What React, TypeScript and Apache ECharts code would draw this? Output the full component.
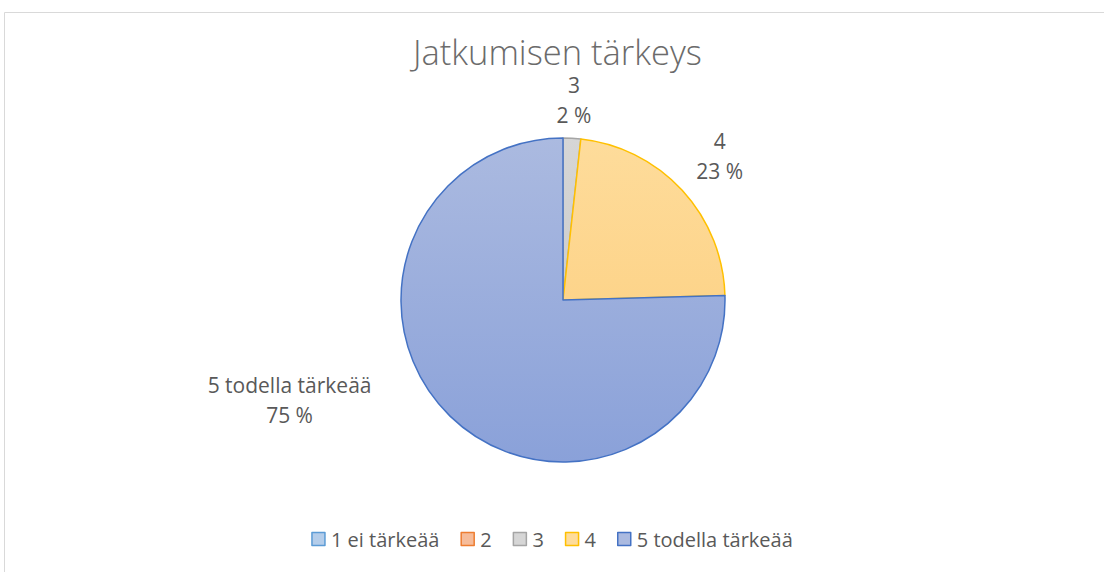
import React, { useEffect, useRef } from "react";
import * as echarts from "echarts";

const TITLE = "Jatkumisen tärkeys";
const categories = ["1 ei tärkeää", "2", "3", "4", "5 todella tärkeää"];
const counts = [0, 0, 1, 13, 43];

const borderColors = ["#5b9bd5", "#ed7d31", "#a5a5a5", "#ffc000", "#4472c4"];
const fillTop = ["#b4cdea", "#f6bc9a", "#d6d6d6", "#fedc9b", "#abbae0"];
const fillBottom = ["#9fbfe4", "#f3a77c", "#cccccc", "#fdd48a", "#8aa1d9"];

// label anchor angle (degrees clockwise from top) override and distance from center
const labelAngleOverride: (number | null)[] = [null, null, null, null, 250];
const labelDistance = [200, 200, 200, 213, 291];

const CX = 563;
const CY = 300;
const R = 162;

export default function App() {
  const ref = useRef<HTMLDivElement>(null);
  useEffect(() => {
    if (!ref.current) return;
    const chart = echarts.init(ref.current, undefined, { renderer: "svg" });
    const total = counts.reduce((a, b) => a + b, 0);
    const midAngles: number[] = [];
    let acc = 0;
    counts.forEach((v) => {
      midAngles.push(((acc + v / 2) / total) * 360);
      acc += v;
    });
    const grad = (i: number) =>
      new echarts.graphic.LinearGradient(0, 0, 0, 1, [
        { offset: 0, color: fillTop[i] },
        { offset: 1, color: fillBottom[i] },
      ]);
    const fontFamily = "'Open Sans', Lato, sans-serif";
    chart.setOption({
      animation: false,
      backgroundColor: "#ffffff",
      graphic: [
        {
          type: "rect",
          shape: { x: 4.5, y: 12.5, width: 1200, height: 700 },
          style: { fill: "none", stroke: "#d9d9d9", lineWidth: 1 },
          silent: true,
        },
      ],
      title: {
        text: TITLE,
        left: 413,
        top: 36,
        padding: 0,
        textStyle: {
          fontFamily,
          fontSize: 34.5,
          lineHeight: 30,
          fontWeight: 300,
          color: "#6b6b6b",
        },
      },
      legend: {
        bottom: 18,
        left: "center",
        itemWidth: 13,
        itemHeight: 13,
        itemGap: 21,
        icon: "rect",
        textStyle: { fontFamily, fontSize: 20, color: "#595959", padding: [0, 0, 0, 1] },
        data: categories.map((c, i) => ({
          name: c,
          itemStyle: { color: fillTop[i], borderColor: borderColors[i], borderWidth: 1.5 },
        })),
      },
      series: [
        {
          type: "pie",
          center: [CX, CY],
          radius: R,
          startAngle: 90,
          clockwise: true,
          avoidLabelOverlap: false,
          labelLine: { show: false },
          label: {
            show: true,
            position: "outside",
            fontFamily,
            fontSize: 21,
            color: "#595959",
            lineHeight: 30,
            align: "center",
            formatter: (p: any) => `${p.name}\n${Math.round(p.percent)} %`,
          },
          labelLayout: (p: any) => {
            const i = p.dataIndex;
            const ang = labelAngleOverride[i] ?? midAngles[i];
            const rad = (ang * Math.PI) / 180;
            const d = labelDistance[i];
            return {
              x: CX + Math.sin(rad) * d,
              y: CY - Math.cos(rad) * d,
              align: "center",
              verticalAlign: "middle",
            };
          },
          data: categories.map((c, i) => ({
            name: c,
            value: counts[i],
            label: { show: counts[i] > 0 },
            itemStyle: {
              color: grad(i),
              borderColor: borderColors[i],
              borderWidth: counts[i] > 0 ? 1.5 : 0,
            },
          })),
        },
      ],
    });
    return () => chart.dispose();
  }, []);
  return (
    <div
      ref={ref}
      style={{ position: "fixed", left: 0, top: 0, width: 1104, height: 572 }}
    />
  );
}
